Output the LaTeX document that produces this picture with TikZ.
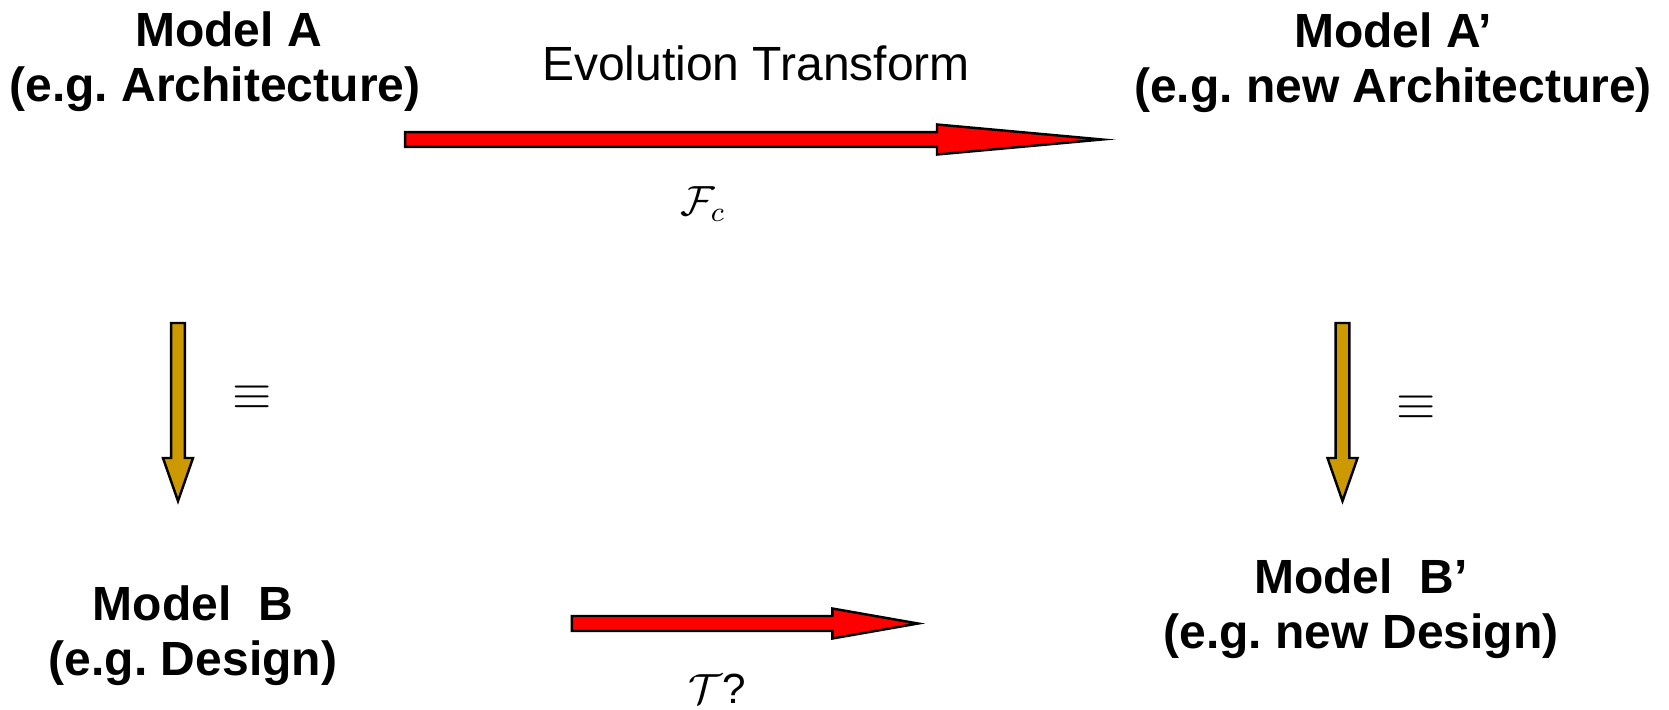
\documentclass[tikz,border=0pt]{standalone}
\usepackage{fontspec}
\setmainfont{Liberation Sans}
\usetikzlibrary{calc}
\usepackage{xcolor}
\definecolor{ArrowRed}{RGB}{255,0,0}
\definecolor{ArrowGold}{RGB}{204,153,0}
\frenchspacing
\tikzset{
  model/.style={font=\fontsize{13.66}{15.65}\selectfont\bfseries, align=center,
    inner sep=0pt},
  caption/.style={font=\fontsize{13.66}{15.65}\selectfont, inner sep=0pt},
  maplabel/.style={font=\fontsize{12}{14}\selectfont, inner sep=0pt},
  equivmark/.style={font=\fontsize{14.4}{16}\selectfont, inner sep=0pt},
  fatline/.style={draw=black, line width=0.7pt, miter limit=20},
  redarrow/.style={fatline, fill=ArrowRed},
  goldarrow/.style={fatline, fill=ArrowGold}
}
\newcommand{\blockarrow}[6]{%
  \coordinate (hb) at ($(#3)!#4!(#2)$);
  \filldraw[#1] ($(#2)!#6!90:(#3)$) -- ($(hb)!#6!90:(#3)$) -- ($(hb)!#5!90:(#3)$) -- (#3)
    -- ($(hb)!#5!-90:(#3)$) -- ($(hb)!#6!-90:(#3)$) -- ($(#2)!#6!-90:(#3)$) -- cycle;
}

\begin{document}
\begin{tikzpicture}
          \useasboundingbox (0,0) rectangle (16.69,7.09);
          \node[model] (modelA) at (2.15,6.475) {\hspace*{0.27cm}Model A\\(e.g. Architecture)};
          \node[model] (modelAp) at (13.93,6.465) {Model A’\\(e.g. new Architecture)};
          \node[model] (modelB) at (1.93,0.737) {Model\ \ B\\(e.g. Design)};
          \node[model] (modelBp) at (13.61,1.003) {Model\ \ B’\\(e.g. new Design)};
          \node[caption, anchor=base] (evo) at (7.56,6.29) {Evolution Transform};
          \node[maplabel, anchor=base] (fc) at (7.03,4.94) {$\mathcal{F}_c$};
          \node[maplabel, anchor=base] (tq) at (7.17,0.06) {$\mathcal{T}$?};
          \node[equivmark] (eqL) at (2.52,3.11) {$\equiv$};
          \node[equivmark] (eqR) at (14.16,3.01) {$\equiv$};
          \coordinate (evotail) at (4.052,5.695);
          \coordinate (evotip) at (11.02,5.695);
          \coordinate (ttail) at (5.719,0.855);
          \coordinate (ttip) at (9.18,0.855);
          \coordinate (eqLtop) at (1.78,3.86);
          \coordinate (eqLtip) at (1.78,2.08);
          \coordinate (eqRtop) at (13.425,3.86);
          \coordinate (eqRtip) at (13.425,2.08);
          \blockarrow{redarrow}{evotail}{evotip}{1.65cm}{0.15cm}{0.073cm}
          \blockarrow{redarrow}{ttail}{ttip}{0.857cm}{0.15cm}{0.075cm}
          \blockarrow{goldarrow}{eqLtop}{eqLtip}{0.43cm}{0.15cm}{0.068cm}
          \blockarrow{goldarrow}{eqRtop}{eqRtip}{0.43cm}{0.15cm}{0.068cm}
        \end{tikzpicture}
\end{document}
